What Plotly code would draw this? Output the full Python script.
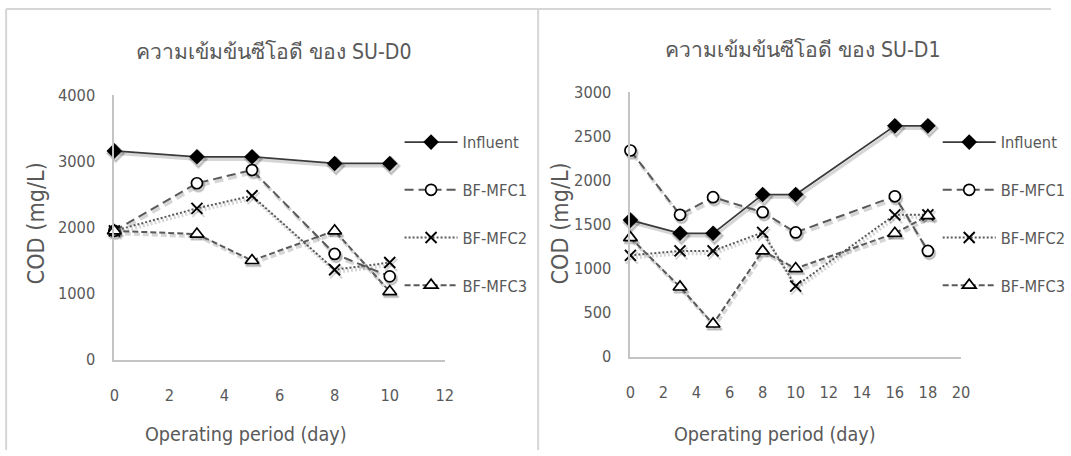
import plotly.graph_objects as go

# COD concentration over the operating period for two reactor sets
days_d0 = [0, 3, 5, 8, 10]
d0_influent = [3160, 3070, 3070, 2970, 2970]
d0_mfc1 = [1950, 2670, 2870, 1600, 1260]
d0_mfc2 = [1950, 2290, 2480, 1360, 1470]
d0_mfc3 = [1950, 1900, 1500, 1950, 1030]

days_d1 = [0, 3, 5, 8, 10, 16, 18]
d1_influent = [1550, 1400, 1400, 1840, 1840, 2620, 2620]
d1_mfc1 = [2340, 1610, 1810, 1640, 1410, 1820, 1200]
d1_mfc2 = [1150, 1200, 1200, 1410, 800, 1610, 1610]
d1_mfc3 = [1350, 790, 370, 1200, 1000, 1400, 1600]

series_names = ["Influent", "BF-MFC1", "BF-MFC2", "BF-MFC3"]
titles = ["ความเข้มข้นซีโอดี ของ SU-D0", "ความเข้มข้นซีโอดี ของ SU-D1"]
x_title = "Operating period (day)"
y_title = "COD (mg/L)"

# figure size and the page-to-view transform (body margin + view scale)
W, H, BODY = 1071, 460, 8
SX, SY, OX, OY = 0.984, 0.958, -4.0, 3.0
FONT = "Liberation Sans Narrow, DejaVu Sans Condensed, Noto Sans, sans-serif"
TXT = "#595959"


def fs(size):
    return round(size / ((SX + SY) / 2), 1)


def px_x(p):
    """View x pixel -> paper fraction."""
    return min(max(((p - OX) / SX - BODY) / W, 0), 1)


def px_y(p):
    """View y pixel (from top) -> paper fraction."""
    return min(max(1 - ((p - OY) / SY - BODY) / H, 0), 1)


styles = [
    dict(line=dict(color="#3a3a3a", width=1.7, dash="solid"),
         marker=dict(symbol="diamond", size=12, color="black")),
    dict(line=dict(color="#595959", width=2, dash="9px,5px"),
         marker=dict(symbol="circle", size=11, color="white",
                     line=dict(color="black", width=1.7))),
    dict(line=dict(color="#595959", width=2, dash="2px,2px"),
         marker=dict(symbol="x-thin", size=11, color="black",
                     line=dict(color="black", width=1.9))),
    dict(line=dict(color="#595959", width=2, dash="6px,3px"),
         marker=dict(symbol="triangle-up", size=12, color="white",
                     line=dict(color="black", width=1.7))),
]

SHADOW = "rgba(0,0,0,0.16)"

fig = go.Figure()

# plot boxes in view pixels: (left, right, top, bottom)
boxes = [(114, 447, 97, 361), (634, 967, 94, 358)]
panels = [
    (days_d0, [d0_influent, d0_mfc1, d0_mfc2, d0_mfc3], "legend"),
    (days_d1, [d1_influent, d1_mfc1, d1_mfc2, d1_mfc3], "legend2"),
]

# soft drop shadow under the series (drawn first, on offset hidden axes)
for k, (days, values, lg) in enumerate(panels):
    xa, ya = ("x", "y") if k == 0 else ("x2", "y2")
    for i, vals in enumerate(values):
        st = styles[i]
        fig.add_trace(go.Scatter(
            x=days, y=vals, mode="lines+markers", xaxis=xa, yaxis=ya,
            showlegend=False, hoverinfo="skip", cliponaxis=False,
            line=dict(color=SHADOW, width=st["line"]["width"] + 1.5,
                      dash=st["line"]["dash"]),
            marker=dict(symbol=st["marker"]["symbol"], size=st["marker"]["size"] + 1,
                        color=SHADOW, line=dict(color=SHADOW, width=2))))

# the series themselves
for k, (days, values, lg) in enumerate(panels):
    xa, ya = ("x3", "y3") if k == 0 else ("x4", "y4")
    for i, (name, vals) in enumerate(zip(series_names, values)):
        fig.add_trace(go.Scatter(
            x=days, y=vals, name=name, mode="lines+markers",
            xaxis=xa, yaxis=ya, legend=lg, legendgroup=lg + name,
            cliponaxis=False, **styles[i]))

axis_common = dict(showgrid=False, zeroline=False, showline=True,
                   linecolor="#c4c4c4", linewidth=1.6, ticks="",
                   tickfont=dict(family=FONT, size=fs(15.8), color=TXT))
hidden = dict(visible=False, showgrid=False, zeroline=False)
dx, dy = 1.5, 2.5

(l0, r0, t0, b0), (l1, r1, t1, b1) = boxes
legend_common = dict(xanchor="left", yanchor="top", bgcolor="rgba(0,0,0,0)",
                     tracegroupgap=23.5, itemwidth=53,
                     font=dict(family=FONT, size=fs(15.8), color=TXT))
fig.update_layout(
    width=W, height=H, margin=dict(l=0, r=0, t=0, b=0),
    paper_bgcolor="white", plot_bgcolor="rgba(0,0,0,0)",
    xaxis=dict(domain=[px_x(l0 + dx), px_x(r0 + dx)], range=[0, 12], anchor="y", **hidden),
    yaxis=dict(domain=[px_y(b0 + dy), px_y(t0 + dy)], range=[0, 4000], anchor="x", **hidden),
    xaxis2=dict(domain=[px_x(l1 + dx), px_x(r1 + dx)], range=[0, 20], anchor="y2", **hidden),
    yaxis2=dict(domain=[px_y(b1 + dy), px_y(t1 + dy)], range=[0, 3000], anchor="x2", **hidden),
    xaxis3=dict(domain=[px_x(l0), px_x(r0)], range=[0, 12], dtick=2,
                anchor="y3", ticklabelstandoff=20, **axis_common),
    yaxis3=dict(domain=[px_y(b0), px_y(t0)], range=[0, 4000], dtick=1000,
                anchor="x3", ticklabelstandoff=14, **axis_common),
    xaxis4=dict(domain=[px_x(l1), px_x(r1)], range=[0, 20], dtick=2,
                anchor="y4", ticklabelstandoff=20, **axis_common),
    yaxis4=dict(domain=[px_y(b1), px_y(t1)], range=[0, 3000], dtick=500,
                anchor="x4", ticklabelstandoff=14, **axis_common),
    legend=dict(x=404 / W, y=1 - 121 / H, **legend_common),
    legend2=dict(x=955 / W, y=1 - 121 / H, **legend_common),
    showlegend=True,
)

# chart titles and axis titles
ann = []
for cx, cy, t in [(275, 53, titles[0]), (808, 51, titles[1])]:
    ann.append(dict(x=px_x(cx), y=px_y(cy), text=t, showarrow=False,
                    xref="paper", yref="paper", xanchor="center", yanchor="middle",
                    font=dict(family=FONT, size=fs(20.5), color=TXT)))
for cx in (247, 780):
    ann.append(dict(x=px_x(cx), y=px_y(436), text=x_title, showarrow=False,
                    xref="paper", yref="paper", xanchor="center", yanchor="middle",
                    font=dict(family=FONT, size=fs(19), color=TXT)))
for cx in (35, 563):
    ann.append(dict(x=px_x(cx), y=px_y(225), text=y_title, showarrow=False,
                    textangle=-90, xref="paper", yref="paper",
                    xanchor="center", yanchor="middle",
                    font=dict(family=FONT, size=fs(22.5), color=TXT)))
fig.update_layout(annotations=ann)

# chart area frames
frame = dict(type="line", xref="paper", yref="paper",
             line=dict(color="#d6d6d6", width=2))
fig.update_layout(shapes=[
    dict(frame, x0=px_x(5), x1=1, y0=px_y(7), y1=px_y(7)),
    dict(frame, x0=px_x(5), x1=px_x(5), y0=px_y(7), y1=0),
    dict(frame, x0=px_x(541), x1=px_x(541), y0=px_y(7), y1=0),
])

fig.write_html("out.html")
